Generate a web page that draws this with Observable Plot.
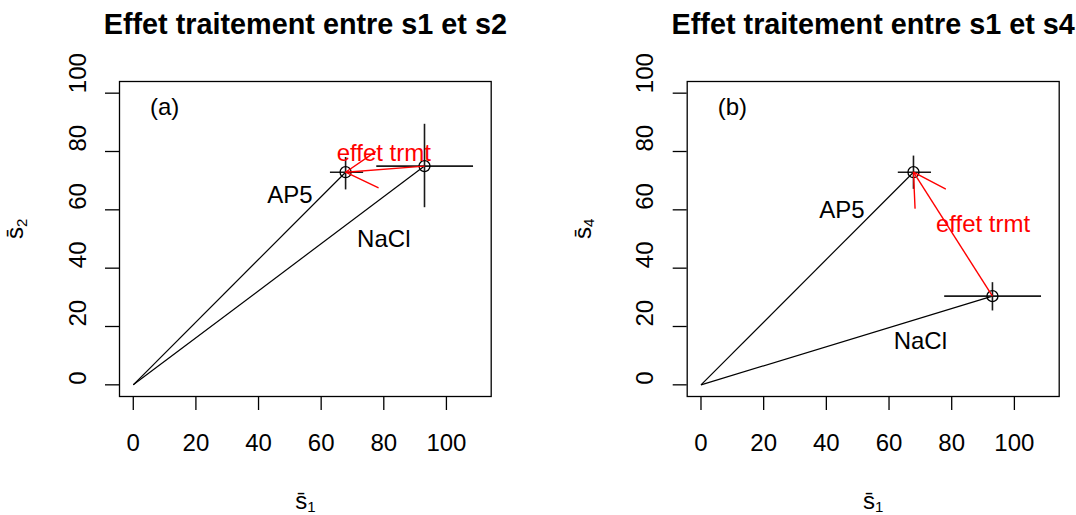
<!DOCTYPE html>
<html>
<head>
<meta charset="utf-8">
<script src="https://cdn.jsdelivr.net/npm/d3@7"></script>
<script src="https://cdn.jsdelivr.net/npm/@observablehq/plot@0.6"></script>
<style>
  body { margin: 0; background: white; }
  #wrap { display: flex; flex-direction: row; width: 1076px; height: 515px; overflow: hidden; }
</style>
</head>
<body>
<div id="wrap"></div>
<script>
// ---- data ----
const groups = ["AP5", "NaCl"];
const s1Mean = [67.8, 93.0];
const s1Low  = [62.8, 77.6];
const s1High = [73.4, 108.5];
const s2Mean = [72.9, 75.0];
const s2Low  = [67.0, 60.9];
const s2High = [78.1, 89.5];
const s4Mean = [72.9, 30.4];
const s4Low  = [67.2, 25.5];
const s4High = [78.6, 35.2];
const xTicks = [0, 20, 40, 60, 80, 100];
const yTicks = [0, 20, 40, 60, 80, 100];
const titles = ["Effet traitement entre s1 et s2", "Effet traitement entre s1 et s4"];
const tags = ["(a)", "(b)"];
// axis labels: s with overbar and subscript
const xLabelSub = "1";
const yLabelSubs = ["2", "4"];
const effetLabel = "effet trmt";
// annotation anchor points (data units)
const labelXa = [50, 80], labelYa = [65, 50];
const labelXb = [45, 70], labelYb = [60, 15];
const effetXY = [[80, 79.5], [90, 55]];
const tagXY = [10, 95];

const FONT = "'Liberation Sans', Arial, Helvetica, sans-serif";
const H = 515, MT = 81, MB = 119;
const xDomain = [-4.4, 114.3];
const yDomain = [-4, 104];

// custom arrowhead (two barbs at ±30° around the shaft)
const barbs = {
  draw(ctx, l) {
    const a = Math.PI / 6;
    ctx.moveTo(l * Math.sin(a), -l * Math.cos(a));
    ctx.lineTo(0, 0);
    ctx.lineTo(-l * Math.sin(a), -l * Math.cos(a));
  }
};

const labelText = sub => "s\u0304" + String.fromCharCode(0x2080 + Number(sub));

function panel(idx, yMean, yLow, yHigh, labX, labY, width, ml, mr) {
  const rows = groups.map((g, i) => ({
    g, x: s1Mean[i], xl: s1Low[i], xh: s1High[i],
    y: yMean[i], yl: yLow[i], yh: yHigh[i], lx: labX[i], ly: labY[i]
  }));
  const ap5 = rows[0], nacl = rows[1];
  const xs = d3.scaleLinear(xDomain, [ml, width - mr]);
  const ys = d3.scaleLinear(yDomain, [H - MB, MT]);
  const ang = Math.atan2(xs(nacl.x) - xs(ap5.x), -(ys(nacl.y) - ys(ap5.y))) * 180 / Math.PI;

  const svg = Plot.plot({
    width, height: H,
    marginLeft: ml, marginRight: mr, marginTop: MT, marginBottom: MB,
    style: {fontFamily: FONT, fontSize: "24px", background: "white", color: "black"},
    x: {domain: xDomain},
    y: {domain: yDomain},
    marks: [
      Plot.frame({stroke: "black", strokeWidth: 1.3}),
      Plot.axisX({ticks: xTicks, tickSize: 14, tickPadding: 23, fontSize: 24, strokeWidth: 1.3, label: null, tickFormat: d => String(d)}),
      Plot.axisY({ticks: yTicks, tickSize: 14, strokeWidth: 1.3, label: null, tickFormat: () => ""}),
      Plot.text(yTicks, {y: d => d, text: d => String(d), frameAnchor: "left", dx: -41.4, rotate: -90, fontSize: 24, fill: "black"}),
      // lines from origin
      Plot.link(rows, {x1: () => 0, y1: () => 0, x2: "x", y2: "y", stroke: "black", strokeWidth: 1.2}),
      // error bars
      Plot.link(rows, {x1: "xl", x2: "xh", y1: "y", y2: "y", stroke: "#1a1a1a", strokeWidth: 1.6}),
      Plot.link(rows, {x1: "x", x2: "x", y1: "yl", y2: "yh", stroke: "#1a1a1a", strokeWidth: 1.6}),
      Plot.dot(rows, {x: "x", y: "y", r: 5.5, stroke: "black", strokeWidth: 1.3, fill: "none"}),
      // treatment effect arrow
      Plot.link([{a: ap5, b: nacl}], {x1: d => d.b.x, y1: d => d.b.y, x2: d => d.a.x, y2: d => d.a.y, stroke: "red", strokeWidth: 1.4}),
      Plot.vector([ap5], {x: "x", y: "y", length: 36, rotate: () => ang, anchor: "start", shape: barbs, stroke: "red", strokeWidth: 1.4}),
      Plot.text([effetLabel], {x: () => effetXY[idx][0], y: () => effetXY[idx][1], text: d => d, fill: "red", fontSize: 24}),
      // group labels
      Plot.text(rows, {x: "lx", y: "ly", text: "g", fill: "black", fontSize: 24}),
      Plot.text([tags[idx]], {x: () => tagXY[0], y: () => tagXY[1], text: d => d, fill: "black", fontSize: 24}),
      // titles and axis labels
      Plot.text([titles[idx]], {frameAnchor: "top", dy: -47.7, lineAnchor: "bottom", text: d => d, fontWeight: "bold", fontSize: 28.8, fill: "black"}),
      Plot.text([xLabelSub], {frameAnchor: "bottom", dy: 112, lineAnchor: "bottom", text: labelText, fontSize: 24, fill: "black"}),
      Plot.text([yLabelSubs[idx]], {frameAnchor: "left", dx: -96.5, lineAnchor: "bottom", rotate: -90, text: labelText, fontSize: 24, fill: "black"})
    ]
  });

  // rebuild the axis-label texts as "s̄" with a real, smaller subscript
  d3.select(svg).selectAll("text").each(function () {
    const t = this.textContent;
    if (t.length === 3 && t[0] === "s" && t[1] === "\u0304") {
      const sub = String(t.charCodeAt(2) - 0x2080);
      const el = d3.select(this);
      el.text(null);
      el.append("tspan").text("s\u0304");
      el.append("tspan").attr("font-size", 15).attr("dy", 3.5).text(sub);
    }
  });
  return svg;
}

const wrap = document.getElementById("wrap");
wrap.append(panel(0, s2Mean, s2Low, s2High, labelXa, labelYa, 568, 119, 77.3));
wrap.append(panel(1, s4Mean, s4Low, s4High, labelXb, labelYb, 508, 118.7, 17.3));
</script>
</body>
</html>
